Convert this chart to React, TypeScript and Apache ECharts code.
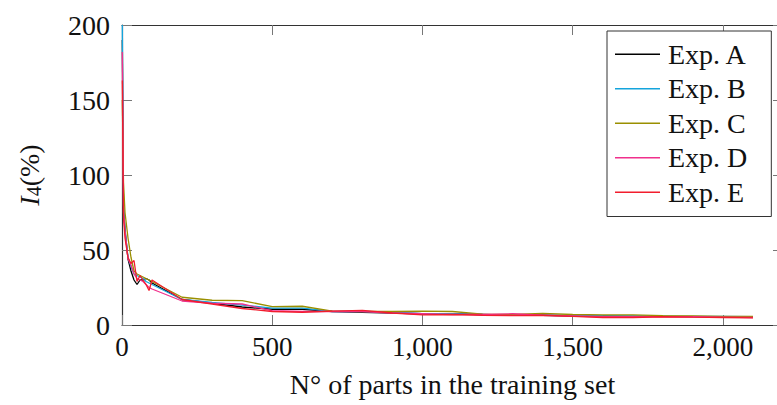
import React, { useEffect, useRef } from "react";
import * as echarts from "echarts";

const xValues = [1, 5, 10, 20, 30, 40, 50, 60, 70, 80, 90, 100, 200, 300, 400, 500, 600, 700, 800, 900, 1000, 1100, 1200, 1300, 1400, 1500, 1600, 1700, 1800, 1900, 2000, 2100];
const expA = [190, 78, 64, 44, 36, 30, 27, 30, 30, 31, 30, 28, 17, 14.5, 12, 10.5, 10.5, 9, 8.5, 8, 7.5, 7.5, 7, 6.5, 6.5, 6, 6, 5.8, 5.7, 5.6, 5.5, 5.5];
const expB = [200, 80, 63, 45, 39, 34, 33, 32, 31, 29, 28, 27, 17, 15, 13.3, 11.3, 11.3, 9, 9, 8.5, 7.5, 7.5, 7, 6.8, 6.5, 6.5, 6.2, 6, 5.8, 5.7, 5.7, 5.5];
const expC = [150, 95, 75, 58, 45, 36, 34, 33, 32, 31, 30, 29, 18.5, 16.5, 16.2, 12.3, 12.5, 9.2, 9, 9, 9.2, 9, 7.2, 7, 7.8, 7, 6.7, 6.7, 6.2, 6, 5.8, 5.8];
const expD = [182, 75, 62, 44, 40, 34, 31, 30, 29, 27, 25, 24, 16, 14.5, 14, 9.5, 9, 9, 9, 8, 7.5, 7, 7, 7.5, 6.5, 6, 5.5, 5.5, 5.5, 5.5, 5.3, 5];
const expE = [163, 72, 58, 45, 41, 43, 29, 33, 30, 27, 23, 30, 17, 14, 11, 9, 8.5, 9.2, 9.8, 8, 6.8, 7, 6.5, 6.3, 6.5, 5.8, 5, 5, 5.5, 5.2, 5, 4.7];

const seriesNames = ["Exp. A", "Exp. B", "Exp. C", "Exp. D", "Exp. E"];
const seriesValues = [expA, expB, expC, expD, expE];
const seriesColors = ["#000000", "#14a4dc", "#9a8f00", "#f0308c", "#f21d2d"];

const FONT = "'Liberation Serif', 'DejaVu Serif', serif";

export default function App() {
  const ref = useRef<HTMLDivElement>(null);
  useEffect(() => {
    if (!ref.current) return;
    document.body.style.overflow = "hidden";
    const chart = echarts.init(ref.current, null, { renderer: "svg" });
    const tickStyle = { show: true, inside: true, length: 10, lineStyle: { color: "#777", width: 1 } };
    const frameLine = { show: true, onZero: false, lineStyle: { color: "#333", width: 1.2 } };
    chart.setOption({
      animation: false,
      backgroundColor: "#ffffff",
      grid: {
        left: 122,
        top: 25,
        width: 661,
        height: 300,
        show: false,
      },
      legend: {
        orient: "vertical",
        left: 607,
        top: 31,
        data: seriesNames,
        icon: "rect",
        itemWidth: 45,
        itemHeight: 1.3,
        itemGap: 0,
        padding: [6, 24, 7, 8],
        borderColor: "#333",
        borderWidth: 1,
        backgroundColor: "#fff",
        textStyle: { fontFamily: FONT, fontSize: 28, color: "#111", lineHeight: 34.5, padding: [0, 0, 0, 3] },
      },
      xAxis: [
        {
          type: "value",
          min: 0,
          max: 2200,
          interval: 500,
          position: "bottom",
          axisLine: frameLine,
          axisTick: tickStyle,
          splitLine: { show: false },
          axisLabel: {
            fontFamily: FONT,
            fontSize: 27,
            color: "#111",
            margin: 8,
            showMaxLabel: false,
            formatter: (v: number) => v.toLocaleString("en-US"),
          },
          name: "N° of parts in the training set",
          nameLocation: "middle",
          nameGap: 45,
          nameTextStyle: { fontFamily: FONT, fontSize: 28, color: "#111" },
        },
        {
          type: "value",
          min: 0,
          max: 2200,
          interval: 500,
          position: "top",
          axisLine: frameLine,
          axisTick: tickStyle,
          splitLine: { show: false },
          axisLabel: { show: false },
        },
      ],
      yAxis: [
        {
          type: "value",
          min: 0,
          max: 200,
          interval: 50,
          position: "left",
          axisLine: frameLine,
          axisTick: tickStyle,
          splitLine: { show: false },
          axisLabel: { fontFamily: FONT, fontSize: 28, color: "#111", margin: 12 },
          name: "{i|I}{s|4}{n|(%)}",
          nameLocation: "middle",
          nameGap: 78,
          nameRotate: 90,
          nameTextStyle: {
            fontFamily: FONT,
            color: "#111",
            rich: {
              i: { fontFamily: FONT, fontStyle: "italic", fontSize: 28, lineHeight: 30, color: "#111" },
              s: { fontFamily: FONT, fontSize: 20, lineHeight: 14, verticalAlign: "bottom", color: "#111" },
              n: { fontFamily: FONT, fontSize: 28, lineHeight: 30, color: "#111" },
            },
          },
        },
        {
          type: "value",
          min: 0,
          max: 200,
          interval: 50,
          position: "right",
          axisLine: frameLine,
          axisTick: tickStyle,
          splitLine: { show: false },
          axisLabel: { show: false },
        },
      ],
      series: seriesNames.map((name, k) => ({
        name,
        type: "line",
        xAxisIndex: 0,
        yAxisIndex: 0,
        symbol: "none",
        showSymbol: false,
        color: seriesColors[k],
        lineStyle: { color: seriesColors[k], width: 1.3 },
        data: xValues.map((x, i) => [x, seriesValues[k][i]]),
      })),
    });
    return () => chart.dispose();
  }, []);
  return (
    <div
      ref={ref}
      style={{ position: "fixed", left: 0, top: 0, width: 800, height: 405, background: "#fff" }}
    />
  );
}
